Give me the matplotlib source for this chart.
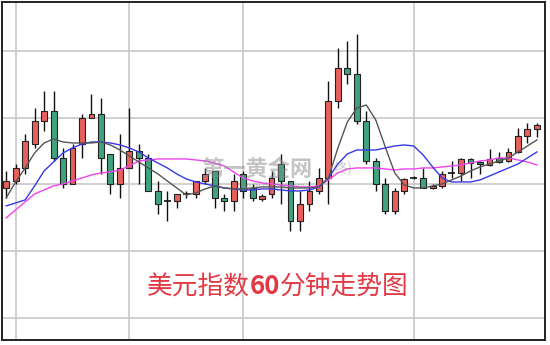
import numpy as np
import matplotlib
matplotlib.use('Agg')
import matplotlib.pyplot as plt

plt.rcParams['font.family'] = ['Noto Sans CJK SC', 'DejaVu Sans']

# 60分钟K线数据 (开 高 低 收)
opens = [97.19, 97.21, 97.25, 97.32, 97.39, 97.42, 97.28, 97.20, 97.32, 97.40,
         97.41, 97.29, 97.20, 97.25, 97.30, 97.28, 97.18, 97.15, 97.15, 97.17,
         97.17, 97.21, 97.24, 97.16, 97.15, 97.23, 97.19, 97.155, 97.17, 97.26,
         97.21, 97.09, 97.14, 97.18, 97.22, 97.45, 97.55, 97.53, 97.39, 97.27,
         97.20, 97.12, 97.18, 97.22, 97.22, 97.19, 97.195, 97.235, 97.235, 97.275,
         97.267, 97.258, 97.279, 97.27, 97.297, 97.345, 97.366]
highs = [97.24, 97.26, 97.35, 97.43, 97.48, 97.48, 97.31, 97.32, 97.41, 97.47,
         97.46, 97.29, 97.35, 97.43, 97.32, 97.29, 97.21, 97.18, 97.17, 97.18,
         97.21, 97.25, 97.24, 97.17, 97.23, 97.24, 97.20, 97.17, 97.24, 97.29,
         97.21, 97.18, 97.21, 97.25, 97.51, 97.61, 97.63, 97.65, 97.42, 97.28,
         97.22, 97.19, 97.22, 97.225, 97.25, 97.20, 97.24, 97.27, 97.28, 97.28,
         97.27, 97.305, 97.297, 97.31, 97.369, 97.384, 97.384]
lows = [97.16, 97.20, 97.23, 97.31, 97.36, 97.27, 97.19, 97.20, 97.28, 97.40,
        97.23, 97.17, 97.16, 97.25, 97.20, 97.18, 97.11, 97.09, 97.13, 97.16,
        97.16, 97.20, 97.13, 97.12, 97.12, 97.16, 97.15, 97.15, 97.16, 97.14,
        97.06, 97.06, 97.12, 97.17, 97.14, 97.43, 97.50, 97.38, 97.26, 97.18,
        97.11, 97.11, 97.17, 97.215, 97.19, 97.185, 97.19, 97.22, 97.21, 97.22,
        97.23, 97.255, 97.264, 97.267, 97.294, 97.324, 97.342]
closes = [97.21, 97.25, 97.33, 97.39, 97.42, 97.28, 97.20, 97.31, 97.40, 97.41,
          97.28, 97.20, 97.25, 97.30, 97.28, 97.18, 97.14, 97.15, 97.17, 97.17,
          97.21, 97.23, 97.16, 97.15, 97.21, 97.18, 97.16, 97.165, 97.22, 97.21,
          97.09, 97.14, 97.18, 97.22, 97.45, 97.55, 97.53, 97.39, 97.27, 97.20,
          97.12, 97.18, 97.215, 97.22, 97.19, 97.195, 97.23, 97.235, 97.275, 97.265,
          97.26, 97.276, 97.267, 97.297, 97.345, 97.366, 97.378]

# 均线
ma_short = [97.159, 97.207, 97.249, 97.294, 97.324, 97.336, 97.327, 97.324, 97.324, 97.324,
            97.327, 97.318, 97.303, 97.285, 97.267, 97.249, 97.231, 97.210, 97.189, 97.168,
            97.174, 97.186, 97.195, 97.189, 97.186, 97.186, 97.189, 97.192, 97.192, 97.192,
            97.189, 97.189, 97.189, 97.192, 97.219, 97.309, 97.387, 97.429, 97.438, 97.393,
            97.312, 97.234, 97.198, 97.189, 97.189, 97.195, 97.201, 97.213, 97.225, 97.240,
            97.252, 97.261, 97.270, 97.279, 97.297, 97.315, 97.333]
ma_mid = [97.135, 97.144, 97.153, 97.195, 97.240, 97.267, 97.294, 97.309, 97.321, 97.327,
          97.327, 97.324, 97.318, 97.309, 97.297, 97.279, 97.264, 97.249, 97.231, 97.216,
          97.207, 97.201, 97.195, 97.189, 97.186, 97.183, 97.183, 97.186, 97.186, 97.183,
          97.180, 97.180, 97.183, 97.192, 97.219, 97.261, 97.291, 97.303, 97.303, 97.303,
          97.309, 97.315, 97.318, 97.315, 97.288, 97.252, 97.219, 97.207, 97.207, 97.207,
          97.213, 97.225, 97.237, 97.249, 97.261, 97.279, 97.297]
ma_long = [97.099, 97.123, 97.147, 97.171, 97.183, 97.195, 97.201, 97.210, 97.219, 97.228,
           97.234, 97.237, 97.243, 97.255, 97.270, 97.273, 97.276, 97.276, 97.276, 97.276,
           97.273, 97.270, 97.264, 97.255, 97.237, 97.219, 97.210, 97.204, 97.201, 97.198,
           97.195, 97.192, 97.192, 97.195, 97.213, 97.234, 97.246, 97.249, 97.249, 97.249,
           97.246, 97.243, 97.246, 97.246, 97.249, 97.249, 97.252, 97.255, 97.258, 97.264,
           97.270, 97.273, 97.279, 97.279, 97.273, 97.267, 97.258]

grid_y = [96.8, 97.0, 97.2, 97.4, 97.6]
grid_x = [1, 13, 25, 43]
title_parts = ['美元指数', '60', '分钟走势图']

o = np.array(opens)
h = np.array(highs)
l = np.array(lows)
c = np.array(closes)
x = np.arange(len(o))

fig = plt.figure(figsize=(5.5, 3.45), dpi=100)
ax = fig.add_axes([0.004, 0.015, 0.987, 0.979])

up = c > o + 0.001
down = c < o - 0.001
doji = ~(up | down)

# 影线
ax.vlines(x, l, h, color='#111111', lw=1.0, zorder=2)
# 实体
ax.bar(x[up], (c - o)[up], bottom=o[up], width=0.62, color='#e8605c',
       edgecolor='#222222', lw=0.8, zorder=3)
ax.bar(x[down], (o - c)[down], bottom=c[down], width=0.62, color='#3fa37c',
       edgecolor='#222222', lw=0.8, zorder=3)
ax.hlines(o[doji], x[doji] - 0.35, x[doji] + 0.35, color='#111111', lw=1.2, zorder=3)

ax.plot(x, ma_long, color='#ee44ee', lw=1.0, zorder=4)
ax.plot(x, ma_mid, color='#3838e8', lw=1.0, zorder=4)
ax.plot(x, ma_short, color='#555555', lw=1.0, zorder=4)

ax.set_xlim(-0.42, 56.86)
ax.set_ylim(96.733, 97.747)
ax.set_xticks(grid_x)
ax.set_yticks(grid_y)
ax.tick_params(length=0, labelbottom=False, labelleft=False)
ax.grid(True, color='#c8c8c8', lw=1.2, zorder=0)
ax.set_axisbelow(True)
for s in ax.spines.values():
    s.set_color('#222222')
    s.set_linewidth(1.4)

# 水印
ax.text(0.47, 0.505, '第一黄金网', transform=ax.transAxes, fontsize=16,
        fontweight='bold', color='#8a8a8a', alpha=0.5, ha='center', va='center', zorder=5)
ax.text(0.625, 0.505, '(终)', transform=ax.transAxes, fontsize=10,
        color='#8a8a8a', alpha=0.45, ha='center', va='center', zorder=5)
ax.text(0.5, 0.455, 'www.dyhjw.com', transform=ax.transAxes, fontsize=6,
        color='#8a8a8a', alpha=0.5, ha='center', va='center', zorder=5)

# 标题 (60 加粗)
t = ax.text(0.266, 0.155, title_parts[0], transform=ax.transAxes, fontsize=18.5,
            color='#e23a44', ha='left', va='center')
for i, part in enumerate(title_parts[1:]):
    t = ax.annotate(part, xy=(1, 0), xycoords=t, ha='left', va='bottom',
                    fontsize=18.5, color='#e23a44',
                    fontweight='bold' if i == 0 else 'normal')

fig.savefig('out.png', dpi=100)
